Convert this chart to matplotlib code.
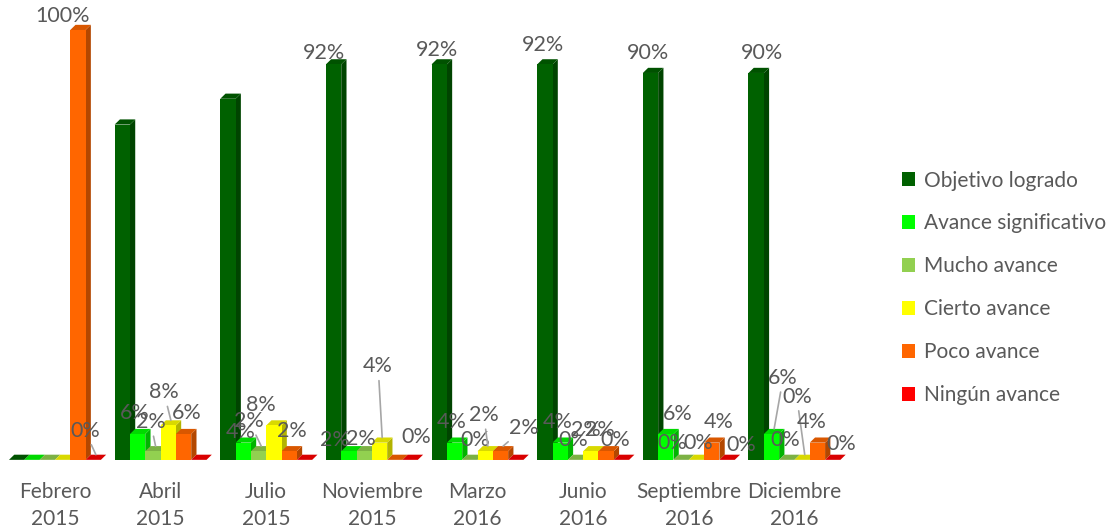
import numpy as np
import matplotlib
matplotlib.use("Agg")
import matplotlib.pyplot as plt
from matplotlib.patches import Polygon, Patch
from matplotlib.colors import to_rgb

plt.rcParams['font.family'] = ['Lato', 'DejaVu Sans']

periods = ["Febrero\n2015", "Abril\n2015", "Julio\n2015", "Noviembre\n2015",
           "Marzo\n2016", "Junio\n2016", "Septiembre\n2016", "Diciembre\n2016"]
series = ["Objetivo logrado", "Avance significativo", "Mucho avance",
          "Cierto avance", "Poco avance", "Ningún avance"]

objetivo_logrado = [0, 78, 84, 92, 92, 92, 90, 90]
avance_significativo = [0, 6, 4, 2, 4, 4, 6, 6]
mucho_avance = [0, 2, 2, 2, 0, 0, 0, 0]
cierto_avance = [0, 8, 8, 4, 2, 2, 0, 0]
poco_avance = [100, 6, 2, 0, 2, 2, 4, 4]
ningun_avance = [0, 0, 0, 0, 0, 0, 0, 0]

colors = ["#006100", "#00FF00", "#92D050", "#FFFF00", "#FF6600", "#FF0000"]
values = np.array([objetivo_logrado, avance_significativo, mucho_avance,
                   cierto_avance, poco_avance, ningun_avance])

# data label placement: (group, series) -> (offset x px, offset y px, leader line)
label_pos = {
    (0, 4): (-18, 9, False), (0, 5): (-11, 24, True),
    (1, 1): (-5, 16, False), (1, 2): (-5, 24, True), (1, 3): (-7, 28, True),
    (1, 4): (1, 16, False),
    (2, 1): (-5, 5, False), (2, 2): (-12, 25, True), (2, 3): (-16, 15, False),
    (2, 4): (0, 15, False),
    (3, 0): (-12, 6, False), (3, 1): (-17, 6, False), (3, 2): (-6, 7, False),
    (3, 3): (-4, 71, True), (3, 5): (3, 18, False),
    (4, 0): (-5, 9, False), (4, 1): (-5, 15, False), (4, 2): (3, 15, False),
    (4, 3): (-4, 31, True), (4, 4): (21, 18, True),
    (5, 0): (-5, 14, False), (5, 1): (-5, 15, False), (5, 2): (-5, 15, False),
    (5, 3): (-8, 16, False), (5, 4): (-9, 16, False), (5, 5): (-9, 15, False),
    (6, 0): (-5, 15, False), (6, 1): (9, 15, False), (6, 2): (-12, 12, False),
    (6, 3): (-1, 12, False), (6, 4): (4, 15, False), (6, 5): (12, 10, False),
    (7, 0): (3, 15, False), (7, 1): (9, 51, True), (7, 2): (-4, 15, False),
    (7, 3): (-8, 58, True), (7, 4): (-8, 15, False), (7, 5): (6, 11, False),
}

grey = "#595959"
fig = plt.figure(figsize=(11.19, 5.31), dpi=100)
ax = fig.add_axes([0.0, 0.134, 0.7685, 0.85])
ax.set_xlim(-0.52, 7.62)
ax.set_ylim(0, 105)

width = 0.145
dx = 0.05   # depth offset in x (data units)
dy = 1.2    # depth offset in y (data units)


def shade(c, f):
    r, g, b = to_rgb(c)
    return (r * f, g * f, b * f)


x = np.arange(len(periods))
for j in range(len(series)):
    xs = x + (j - 2.5) * width
    for i in range(len(periods)):
        h = values[j, i]
        x0 = xs[i] - width / 2
        x1 = xs[i] + width / 2
        # side face
        ax.add_patch(Polygon([(x1, 0), (x1 + dx, dy), (x1 + dx, h + dy), (x1, h)],
                             closed=True, fc=shade(colors[j], 0.7), ec="none", zorder=2))
        # top face
        ax.add_patch(Polygon([(x0, h), (x0 + dx, h + dy), (x1 + dx, h + dy), (x1, h)],
                             closed=True, fc=shade(colors[j], 0.85), ec="none", zorder=2))
    ax.bar(xs, values[j], width=width, color=colors[j], zorder=3)

for (i, j), (ox, oy, leader) in label_pos.items():
    xc = x[i] + (j - 2.5) * width + dx / 2
    arrow = dict(arrowstyle="-", color="#A6A6A6", lw=1.2, shrinkA=1, shrinkB=0) if leader else None
    ax.annotate(f"{values[j, i]}%", xy=(xc, values[j, i] + dy), xytext=(ox, oy),
                textcoords="offset pixels", ha="center", va="center",
                fontsize=15.5, color=grey, zorder=5, arrowprops=arrow)

for s in ax.spines.values():
    s.set_visible(False)
ax.set_yticks([])
ax.set_xticks(x)
ax.set_xticklabels(periods, fontsize=15, color=grey, linespacing=1.44)
ax.tick_params(axis="x", length=0, pad=16)

handles = [Patch(facecolor=c, edgecolor="none") for c in colors]
fig.legend(handles, series, loc="center left", bbox_to_anchor=(0.789, 0.458),
           frameon=False, fontsize=15, labelcolor=grey, handlelength=0.65,
           handleheight=0.65, handletextpad=0.4, labelspacing=1.1)

fig.savefig("out.png", dpi=100)
